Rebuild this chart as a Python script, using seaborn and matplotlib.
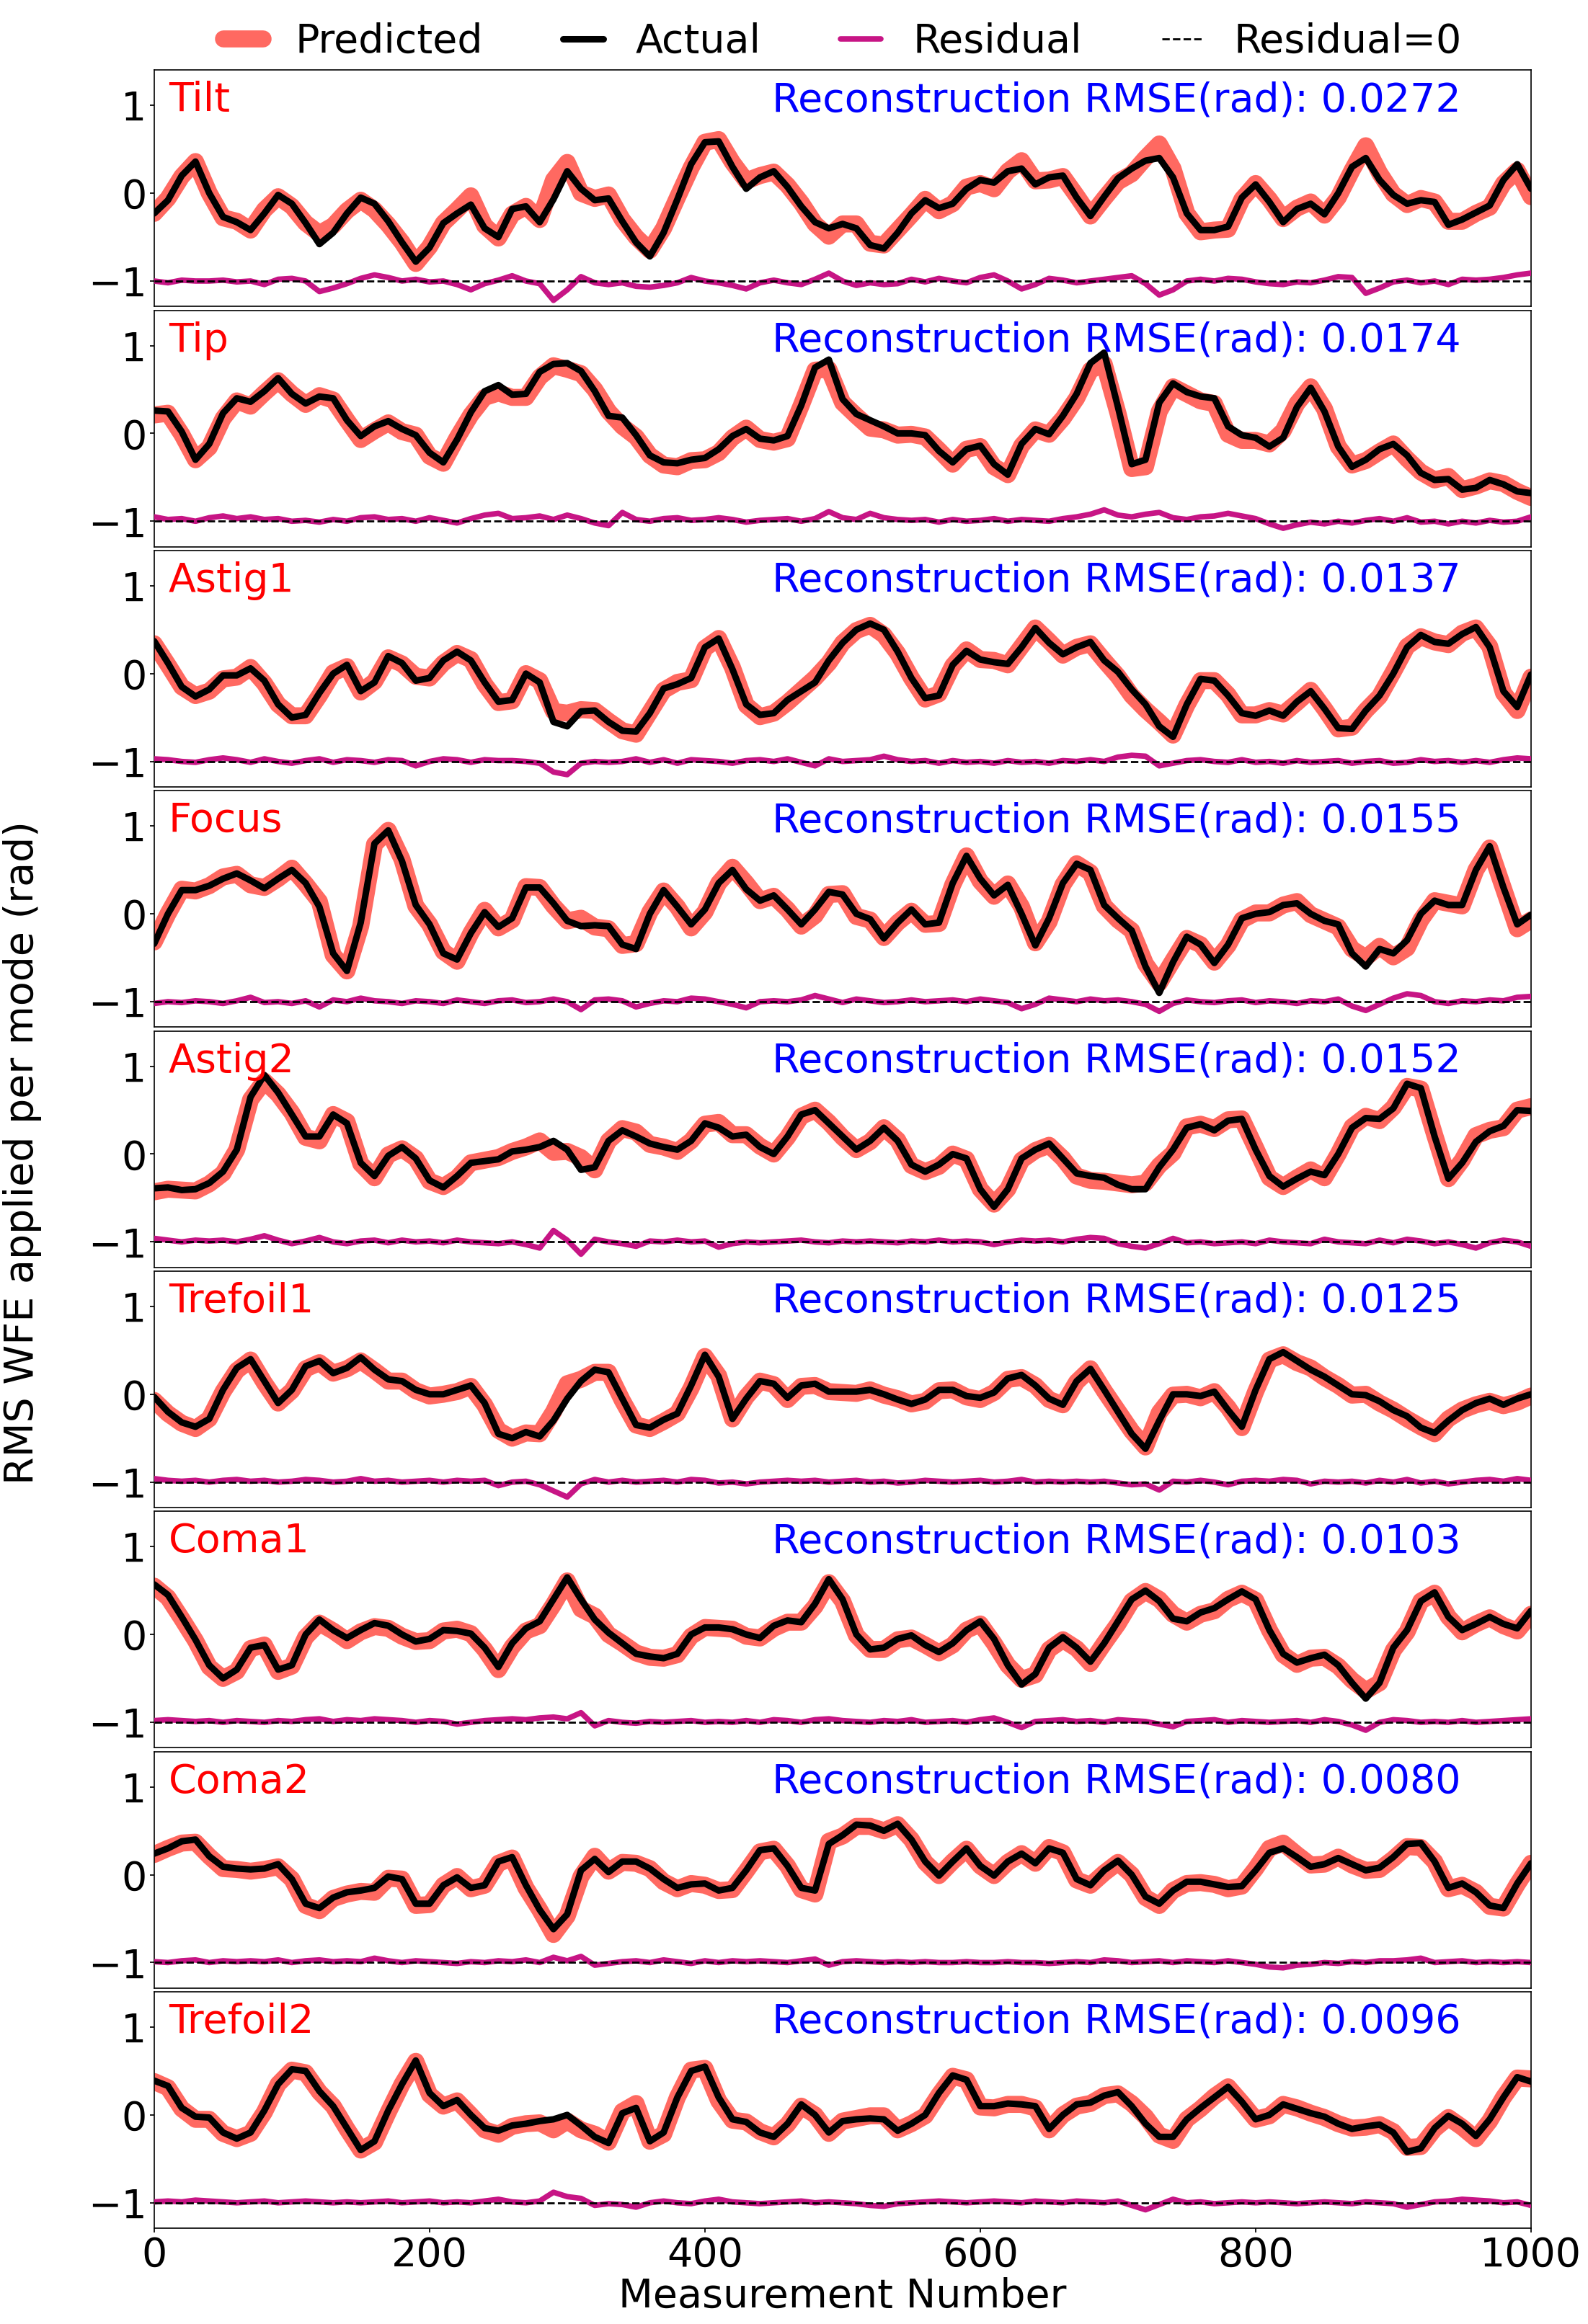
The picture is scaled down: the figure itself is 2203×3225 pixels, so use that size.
import matplotlib
matplotlib.use("Agg")
import matplotlib.pyplot as plt
import pandas as pd
import seaborn as sns

measurement = list(range(0, 1001, 10))

modes = ["Tilt", "Tip", "Astig1", "Focus", "Astig2", "Trefoil1", "Coma1", "Coma2", "Trefoil2"]
rmse = ["0.0272", "0.0174", "0.0137", "0.0155", "0.0152", "0.0125", "0.0103", "0.0080", "0.0096"]

# actual values and residuals (actual - predicted) per mode
tilt_actual = [-0.23, -0.08, 0.20, 0.36, 0.00, -0.27, -0.33, -0.42, -0.23, -0.02,
               -0.12, -0.34, -0.58, -0.45, -0.23, -0.05, -0.12, -0.32, -0.56, -0.78,
               -0.62, -0.34, -0.23, -0.13, -0.40, -0.50, -0.18, -0.15, -0.33, -0.07,
               0.25, 0.05, -0.08, -0.06, -0.32, -0.56, -0.72, -0.45, -0.07, 0.33,
               0.58, 0.59, 0.30, 0.05, 0.18, 0.25, 0.07, -0.15, -0.33, -0.40,
               -0.35, -0.40, -0.59, -0.63, -0.45, -0.23, -0.08, -0.17, -0.12, 0.05,
               0.15, 0.12, 0.25, 0.28, 0.10, 0.18, 0.20, -0.05, -0.26, -0.04,
               0.17, 0.28, 0.37, 0.40, 0.18, -0.23, -0.42, -0.42, -0.38, -0.05,
               0.10, -0.10, -0.33, -0.18, -0.12, -0.24, 0.00, 0.30, 0.40, 0.15,
               -0.02, -0.12, -0.08, -0.10, -0.36, -0.30, -0.22, -0.14, 0.15, 0.33,
               0.05]
tilt_resid = [0.0, -0.02, 0.01, 0.0, 0.0, 0.01, -0.01, 0.0, -0.04, 0.02,
              0.03, 0.0, -0.12, -0.08, -0.03, 0.03, 0.07, 0.04, 0.0, 0.02,
              -0.01, 0.0, -0.04, -0.10, -0.03, 0.01, 0.06, 0.0, -0.03, -0.22,
              -0.10, 0.05, -0.02, -0.04, -0.02, -0.06, -0.07, -0.05, -0.02, 0.04,
              0.0, -0.02, -0.05, -0.09, -0.02, 0.01, -0.02, -0.04, 0.02, 0.09,
              0.0, -0.05, -0.02, -0.04, -0.03, 0.02, -0.01, 0.03, 0.0, -0.02,
              0.04, 0.07, 0.0, -0.09, -0.04, 0.03, 0.01, -0.02, 0.0, 0.02,
              0.04, 0.06, -0.03, -0.16, -0.10, 0.0, 0.02, 0.0, 0.03, 0.02,
              -0.01, -0.03, -0.04, -0.01, -0.02, 0.01, 0.05, 0.04, -0.14, -0.08,
              -0.01, 0.01, -0.02, 0.0, -0.04, 0.02, 0.01, 0.02, 0.04, 0.07,
              0.09]

tip_actual = [0.26, 0.25, 0.02, -0.30, -0.12, 0.23, 0.40, 0.36, 0.48, 0.63,
              0.45, 0.34, 0.42, 0.40, 0.15, -0.03, 0.08, 0.14, 0.05, -0.02,
              -0.22, -0.33, -0.07, 0.24, 0.48, 0.55, 0.44, 0.45, 0.70, 0.79,
              0.80, 0.71, 0.48, 0.20, 0.18, -0.02, -0.25, -0.33, -0.34, -0.30,
              -0.28, -0.18, -0.03, 0.05, -0.06, -0.08, -0.03, 0.32, 0.75, 0.84,
              0.39, 0.22, 0.15, 0.08, 0.00, 0.00, -0.02, -0.20, -0.33, -0.18,
              -0.14, -0.35, -0.47, -0.12, 0.05, -0.01, 0.20, 0.45, 0.80, 0.92,
              0.30, -0.35, -0.30, 0.35, 0.57, 0.47, 0.42, 0.40, 0.08, -0.02,
              -0.05, -0.15, -0.05, 0.30, 0.52, 0.25, -0.15, -0.38, -0.30, -0.18,
              -0.12, -0.25, -0.45, -0.53, -0.52, -0.64, -0.62, -0.53, -0.58, -0.66,
              -0.68]
tip_resid = [0.05, 0.02, 0.03, 0.0, 0.04, 0.06, 0.03, 0.05, 0.02, 0.03,
             0.0, 0.01, -0.01, 0.02, 0.0, 0.04, 0.05, 0.02, 0.03, 0.0,
             0.04, 0.01, -0.02, 0.03, 0.07, 0.09, 0.03, 0.04, 0.06, 0.02,
             0.07, 0.03, -0.02, -0.05, 0.10, 0.02, 0.0, 0.03, 0.04, 0.01,
             0.02, 0.04, 0.02, -0.01, 0.01, 0.02, 0.03, 0.0, 0.03, 0.11,
             0.04, 0.02, 0.09, 0.04, 0.02, 0.01, 0.02, -0.01, 0.02, 0.0,
             0.01, 0.03, 0.0, 0.02, 0.01, 0.0, 0.03, 0.05, 0.08, 0.13,
             0.07, 0.05, 0.08, 0.10, 0.04, 0.02, 0.05, 0.06, 0.09, 0.06,
             0.03, -0.03, -0.08, -0.04, -0.01, -0.03, 0.0, -0.02, 0.01, 0.03,
             0.0, 0.04, -0.01, 0.0, -0.03, 0.0, -0.02, 0.01, -0.01, 0.0,
             0.05]

astig1_actual = [0.37, 0.12, -0.15, -0.26, -0.18, -0.02, -0.02, 0.06, -0.08, -0.35,
                 -0.50, -0.47, -0.22, 0.00, 0.10, -0.20, -0.10, 0.20, 0.12, -0.08,
                 -0.05, 0.15, 0.25, 0.15, -0.10, -0.32, -0.30, 0.00, -0.10, -0.55,
                 -0.60, -0.43, -0.42, -0.55, -0.65, -0.66, -0.45, -0.17, -0.12, -0.05,
                 0.30, 0.40, 0.05, -0.35, -0.47, -0.45, -0.30, -0.20, -0.10, 0.15,
                 0.35, 0.50, 0.57, 0.50, 0.25, -0.05, -0.28, -0.25, 0.10, 0.26,
                 0.16, 0.13, 0.11, 0.30, 0.52, 0.35, 0.22, 0.30, 0.36, 0.15,
                 0.02, -0.18, -0.35, -0.60, -0.72, -0.35, -0.06, -0.08, -0.25, -0.45,
                 -0.48, -0.42, -0.48, -0.32, -0.20, -0.40, -0.62, -0.63, -0.42, -0.25,
                 0.00, 0.30, 0.44, 0.36, 0.34, 0.45, 0.53, 0.30, -0.20, -0.38,
                 -0.01]
astig1_resid = [0.03, 0.02, 0.0, -0.01, 0.02, 0.04, 0.02, -0.01, 0.03, 0.0,
                -0.02, 0.01, 0.03, -0.01, 0.02, 0.01, -0.01, 0.02, 0.01, -0.05,
                0.0, 0.03, 0.02, -0.01, 0.02, 0.01, 0.01, 0.0, -0.02, -0.12,
                -0.15, -0.02, 0.0, -0.01, 0.0, 0.03, -0.01, 0.02, -0.02, 0.02,
                0.01, 0.0, -0.02, 0.01, 0.02, 0.0, 0.03, -0.01, -0.05, 0.03,
                0.0, 0.01, 0.02, 0.06, 0.02, 0.0, 0.01, -0.02, 0.01, -0.01,
                0.0, -0.02, 0.01, -0.01, 0.0, -0.02, 0.01, 0.0, 0.02, 0.0,
                0.05, 0.07, 0.06, -0.05, -0.02, 0.01, 0.02, 0.0, -0.01, 0.02,
                -0.01, 0.0, -0.02, 0.01, -0.01, 0.0, 0.01, -0.02, 0.0, 0.01,
                -0.02, -0.01, 0.02, 0.0, 0.01, -0.01, 0.01, -0.01, 0.02, 0.04,
                0.03]

focus_actual = [-0.34, 0.00, 0.27, 0.27, 0.32, 0.40, 0.46, 0.38, 0.29, 0.40,
                0.50, 0.35, 0.08, -0.45, -0.65, -0.10, 0.80, 0.95, 0.60, 0.10,
                -0.12, -0.45, -0.52, -0.22, 0.02, -0.15, -0.05, 0.30, 0.30, 0.12,
                -0.08, -0.14, -0.13, -0.14, -0.35, -0.40, 0.00, 0.27, 0.08, -0.12,
                0.05, 0.35, 0.50, 0.28, 0.15, 0.21, 0.05, -0.12, 0.05, 0.25,
                0.22, 0.00, -0.06, -0.28, -0.10, 0.05, -0.12, -0.10, 0.35, 0.66,
                0.40, 0.21, 0.33, 0.00, -0.36, -0.05, 0.35, 0.57, 0.50, 0.10,
                -0.05, -0.19, -0.60, -0.90, -0.55, -0.26, -0.35, -0.56, -0.35, -0.05,
                0.00, 0.02, 0.10, 0.12, 0.00, -0.08, -0.12, -0.45, -0.60, -0.40,
                -0.45, -0.30, 0.00, 0.15, 0.10, 0.10, 0.50, 0.77, 0.30, -0.12,
                -0.01]
focus_resid = [-0.02, 0.0, -0.01, 0.01, 0.0, -0.02, 0.01, 0.05, -0.01, 0.0,
               -0.02, 0.01, -0.06, 0.02, 0.0, 0.04, 0.01, 0.0, -0.02, 0.01,
               0.0, -0.02, 0.02, 0.0, -0.02, 0.01, 0.02, -0.01, 0.0, 0.03,
               0.0, -0.09, 0.02, 0.03, 0.01, -0.06, -0.02, 0.01, 0.0, 0.04,
               0.03, 0.0, -0.03, -0.07, 0.0, 0.01, 0.0, 0.02, 0.07, 0.03,
               -0.01, 0.03, 0.01, -0.01, 0.0, 0.02, 0.0, 0.01, 0.02, 0.0,
               0.03, 0.01, -0.01, -0.08, -0.03, 0.04, 0.02, 0.0, 0.03, 0.01,
               0.02, 0.0, -0.03, -0.11, -0.02, 0.02, 0.0, -0.01, 0.01, 0.02,
               -0.01, 0.01, 0.0, -0.02, 0.01, 0.0, 0.03, -0.05, -0.10, -0.03,
               0.04, 0.09, 0.07, 0.0, -0.02, 0.01, 0.0, 0.02, 0.01, 0.05,
               0.06]

astig2_actual = [-0.39, -0.38, -0.41, -0.40, -0.33, -0.20, 0.05, 0.65, 0.90, 0.70,
                 0.45, 0.20, 0.20, 0.45, 0.35, -0.10, -0.25, -0.02, 0.08, -0.05,
                 -0.30, -0.38, -0.25, -0.10, -0.08, -0.06, 0.03, 0.05, 0.08, 0.15,
                 0.05, -0.18, -0.15, 0.15, 0.27, 0.20, 0.12, 0.08, 0.05, 0.15,
                 0.35, 0.30, 0.20, 0.22, 0.08, 0.00, 0.20, 0.45, 0.50, 0.35,
                 0.20, 0.05, 0.15, 0.30, 0.15, -0.12, -0.20, -0.12, 0.00, -0.05,
                 -0.40, -0.60, -0.40, -0.05, 0.05, 0.12, -0.05, -0.22, -0.25, -0.27,
                 -0.35, -0.40, -0.40, -0.15, 0.05, 0.30, 0.34, 0.27, 0.38, 0.40,
                 0.05, -0.25, -0.37, -0.28, -0.20, -0.24, 0.00, 0.30, 0.41, 0.40,
                 0.52, 0.80, 0.75, 0.20, -0.28, -0.10, 0.14, 0.26, 0.32, 0.50,
                 0.49]
astig2_resid = [0.04, 0.02, 0.0, 0.02, 0.01, 0.02, 0.0, 0.03, 0.07, 0.02,
                -0.02, 0.01, 0.05, 0.0, -0.02, 0.01, 0.02, -0.01, 0.02, 0.0,
                0.01, -0.01, 0.02, 0.0, -0.01, -0.02, 0.0, -0.03, -0.07, 0.13,
                0.02, -0.14, 0.03, 0.0, -0.02, -0.05, 0.01, 0.0, 0.02, 0.0,
                0.01, -0.06, -0.02, 0.0, -0.01, 0.0, 0.01, 0.02, 0.0, -0.01,
                0.01, 0.0, 0.01, 0.0, -0.01, 0.01, 0.0, 0.02, 0.0, 0.01,
                0.0, -0.03, 0.0, 0.02, 0.01, 0.02, 0.0, 0.03, 0.05, 0.04,
                -0.02, -0.05, -0.07, -0.02, 0.04, -0.01, 0.0, -0.02, -0.01, 0.0,
                -0.02, 0.02, 0.0, -0.01, -0.02, 0.03, 0.0, -0.01, -0.02, 0.02,
                -0.01, 0.03, 0.01, -0.02, 0.0, -0.03, -0.07, -0.01, 0.02, 0.0,
                -0.05]

trefoil1_actual = [-0.03, -0.20, -0.32, -0.37, -0.28, 0.05, 0.30, 0.40, 0.15, -0.10,
                   0.05, 0.32, 0.38, 0.24, 0.30, 0.42, 0.28, 0.17, 0.15, 0.05,
                   0.00, 0.00, 0.05, 0.10, -0.10, -0.45, -0.50, -0.43, -0.48, -0.30,
                   -0.05, 0.15, 0.28, 0.25, -0.05, -0.35, -0.38, -0.29, -0.22, 0.10,
                   0.45, 0.20, -0.28, -0.05, 0.15, 0.12, -0.04, 0.10, 0.12, 0.03,
                   0.03, 0.03, 0.05, 0.00, -0.06, -0.11, -0.06, 0.05, 0.05, -0.02,
                   -0.04, 0.02, 0.18, 0.22, 0.10, -0.05, -0.12, 0.15, 0.29, 0.05,
                   -0.20, -0.45, -0.62, -0.30, 0.00, 0.00, -0.02, 0.03, -0.18, -0.37,
                   0.05, 0.40, 0.48, 0.38, 0.28, 0.20, 0.10, 0.00, -0.01, -0.08,
                   -0.18, -0.25, -0.38, -0.44, -0.30, -0.18, -0.10, -0.05, -0.12, -0.05,
                   0.00]
trefoil1_resid = [0.04, 0.02, 0.01, 0.02, 0.0, 0.02, 0.03, 0.01, 0.02, 0.0,
                  0.01, 0.03, 0.02, 0.0, 0.01, 0.04, 0.01, 0.02, 0.0, 0.01,
                  0.02, 0.0, 0.02, 0.01, 0.02, -0.04, 0.0, 0.01, -0.03, -0.10,
                  -0.17, -0.02, 0.03, 0.0, 0.02, 0.0, 0.01, 0.02, 0.0, 0.03,
                  0.02, -0.01, 0.0, -0.02, 0.0, 0.01, 0.02, 0.01, 0.02, 0.0,
                  0.01, 0.02, 0.0, 0.01, -0.01, 0.0, 0.02, 0.01, 0.0, 0.01,
                  0.02, 0.0, 0.01, 0.03, 0.0, 0.01, 0.0, 0.01, 0.0, 0.01,
                  -0.01, -0.03, -0.02, -0.09, 0.01, 0.0, 0.02, 0.0, -0.03, 0.01,
                  0.02, 0.01, 0.03, 0.02, -0.02, 0.01, 0.0, 0.01, -0.01, 0.02,
                  0.0, 0.03, -0.01, 0.01, -0.02, 0.0, 0.02, 0.03, 0.01, 0.04,
                  0.02]

coma1_actual = [0.57, 0.45, 0.20, -0.06, -0.35, -0.50, -0.40, -0.15, -0.12, -0.40,
                -0.35, 0.00, 0.17, 0.05, -0.04, 0.05, 0.13, 0.10, 0.00, -0.08,
                -0.05, 0.05, 0.04, 0.01, -0.15, -0.37, -0.10, 0.07, 0.15, 0.40,
                0.65, 0.40, 0.17, 0.02, -0.10, -0.22, -0.25, -0.27, -0.22, 0.00,
                0.08, 0.08, 0.06, 0.00, -0.04, 0.10, 0.16, 0.14, 0.35, 0.63,
                0.40, 0.00, -0.17, -0.15, -0.05, -0.01, -0.12, -0.20, -0.10, 0.05,
                0.15, -0.05, -0.35, -0.57, -0.45, -0.15, -0.03, -0.15, -0.31, -0.10,
                0.15, 0.40, 0.50, 0.38, 0.18, 0.15, 0.25, 0.30, 0.40, 0.49,
                0.40, 0.05, -0.22, -0.32, -0.27, -0.23, -0.35, -0.55, -0.73, -0.55,
                -0.15, 0.05, 0.38, 0.48, 0.20, 0.05, 0.12, 0.20, 0.12, 0.07,
                0.27]
coma1_resid = [0.02, 0.03, 0.02, 0.01, 0.02, 0.0, 0.02, 0.01, 0.0, 0.02,
               0.01, 0.03, 0.04, 0.01, 0.03, 0.02, 0.04, 0.03, 0.02, 0.0,
               0.02, 0.01, -0.02, 0.0, 0.02, 0.03, 0.04, 0.03, 0.05, 0.06,
               0.04, 0.11, -0.04, 0.02, 0.0, -0.01, 0.01, 0.0, 0.01, 0.02,
               0.0, 0.01, 0.0, 0.02, 0.0, 0.03, 0.02, 0.0, 0.03, 0.04,
               0.02, 0.01, 0.0, 0.02, 0.01, 0.03, 0.0, 0.01, 0.02, 0.0,
               0.03, 0.05, 0.0, -0.06, 0.01, 0.02, 0.03, 0.01, 0.02, 0.0,
               0.03, 0.02, 0.01, -0.02, -0.05, 0.01, 0.02, 0.03, 0.0, 0.02,
               0.01, 0.0, 0.01, 0.02, 0.0, 0.03, 0.01, -0.03, -0.09, 0.0,
               0.03, 0.02, 0.0, 0.01, 0.0, 0.02, 0.0, 0.01, 0.02, 0.03,
               0.04]

coma2_actual = [0.24, 0.30, 0.38, 0.40, 0.21, 0.09, 0.07, 0.06, 0.07, 0.12,
                -0.05, -0.33, -0.38, -0.26, -0.20, -0.18, -0.15, -0.02, -0.05, -0.33,
                -0.33, -0.12, -0.03, -0.15, -0.12, 0.15, 0.20, -0.12, -0.40, -0.62,
                -0.45, 0.05, 0.18, 0.03, 0.15, 0.15, 0.07, -0.05, -0.15, -0.11,
                -0.10, -0.18, -0.15, 0.05, 0.28, 0.30, 0.10, -0.15, -0.18, 0.35,
                0.45, 0.57, 0.56, 0.50, 0.58, 0.40, 0.15, -0.01, 0.15, 0.30,
                0.10, -0.01, 0.15, 0.24, 0.13, 0.30, 0.25, -0.05, -0.12, 0.05,
                0.16, 0.00, -0.25, -0.33, -0.18, -0.08, -0.08, -0.11, -0.14, -0.13,
                0.05, 0.25, 0.30, 0.20, 0.09, 0.12, 0.19, 0.12, 0.05, 0.08,
                0.20, 0.35, 0.36, 0.15, -0.15, -0.10, -0.20, -0.35, -0.38, -0.10,
                0.13]
coma2_resid = [0.01, 0.0, 0.02, 0.03, 0.0, 0.02, 0.01, 0.02, 0.01, 0.03,
               0.0, 0.02, 0.03, 0.01, 0.02, 0.01, 0.05, 0.02, 0.0, 0.02,
               0.01, 0.0, -0.01, 0.01, 0.0, 0.02, 0.01, 0.03, 0.0, 0.06,
               0.02, 0.07, -0.03, -0.01, 0.01, 0.02, 0.0, 0.03, 0.01, -0.01,
               0.02, 0.0, 0.02, 0.01, 0.02, 0.01, 0.0, 0.02, 0.04, -0.03,
               0.01, 0.02, 0.01, 0.0, 0.01, 0.0, 0.01, 0.0, 0.0, 0.01,
               0.0, 0.0, 0.01, 0.0, 0.0, -0.01, 0.0, 0.01, 0.0, 0.03,
               0.02, 0.0, 0.01, 0.02, 0.0, 0.02, 0.01, 0.0, 0.02, 0.0,
               -0.02, -0.05, -0.06, -0.03, -0.02, 0.0, -0.01, 0.01, 0.0, 0.02,
               0.02, 0.03, 0.05, 0.0, 0.01, 0.02, 0.0, 0.01, 0.0, 0.01,
               0.0]

trefoil2_actual = [0.39, 0.33, 0.08, -0.02, -0.03, -0.20, -0.27, -0.20, 0.05, 0.35,
                   0.52, 0.50, 0.27, 0.10, -0.15, -0.40, -0.30, 0.05, 0.35, 0.62,
                   0.25, 0.10, 0.17, 0.00, -0.15, -0.18, -0.12, -0.10, -0.07, -0.05,
                   0.00, -0.12, -0.25, -0.32, 0.02, 0.08, -0.30, -0.20, 0.20, 0.50,
                   0.55, 0.20, -0.05, -0.08, -0.20, -0.25, -0.10, 0.12, 0.00, -0.20,
                   -0.07, -0.05, -0.04, -0.05, -0.18, -0.10, 0.00, 0.25, 0.45, 0.40,
                   0.10, 0.10, 0.13, 0.12, 0.10, -0.16, 0.00, 0.12, 0.14, 0.22,
                   0.26, 0.10, -0.10, -0.25, -0.25, -0.05, 0.08, 0.20, 0.32, 0.15,
                   -0.05, 0.00, 0.12, 0.07, 0.02, -0.02, -0.10, -0.16, -0.13, -0.11,
                   -0.20, -0.42, -0.38, -0.15, -0.01, -0.10, -0.24, -0.05, 0.20, 0.43,
                   0.38]
trefoil2_resid = [0.01, 0.02, 0.01, 0.03, 0.02, 0.01, 0.0, 0.01, 0.02, 0.0,
                  0.01, 0.02, 0.01, 0.0, 0.01, 0.0, 0.01, 0.02, 0.0, 0.01,
                  0.02, 0.0, 0.01, 0.0, 0.02, 0.04, 0.01, 0.0, 0.02, 0.12,
                  0.07, 0.05, -0.03, -0.01, -0.02, -0.05, 0.0, 0.02, 0.0, -0.01,
                  0.02, 0.04, 0.01, 0.0, -0.01, 0.0, 0.01, 0.02, 0.0, 0.01,
                  0.0, -0.01, -0.03, -0.04, -0.01, 0.0, 0.01, 0.02, 0.01, 0.0,
                  0.01, 0.02, 0.01, 0.0, 0.02, 0.01, 0.0, 0.02, 0.01, 0.0,
                  0.02, -0.03, -0.08, -0.02, 0.04, 0.0, 0.01, -0.01, 0.0, 0.01,
                  0.0, 0.01, 0.0, -0.01, 0.0, 0.01, 0.0, -0.01, 0.01, 0.0,
                  -0.01, -0.05, -0.02, 0.01, 0.02, 0.04, 0.03, 0.02, 0.0, 0.01,
                  -0.03]

actual_lists = [tilt_actual, tip_actual, astig1_actual, focus_actual, astig2_actual,
                trefoil1_actual, coma1_actual, coma2_actual, trefoil2_actual]
resid_lists = [tilt_resid, tip_resid, astig1_resid, focus_resid, astig2_resid,
               trefoil1_resid, coma1_resid, coma2_resid, trefoil2_resid]

for name, a, r in zip(modes, actual_lists, resid_lists):
    if len(a) != len(measurement) or len(r) != len(measurement):
        print(f"length problem in {name}: {len(a)} {len(r)}")

# long-form table for seaborn
frames = []
for name, a, r in zip(modes, actual_lists, resid_lists):
    frames.append(pd.DataFrame({"Measurement": measurement, "Actual": a,
                                "Residual": r, "mode": name}))
df = pd.concat(frames, ignore_index=True)
df["Predicted"] = df["Actual"] - df["Residual"]
df["ResidualShift"] = df["Residual"] - 1.0

PRED = "#ff6961"
RES = "#c71585"
FS = 40

sns.set_theme(style="ticks")
plt.rcParams.update({
    "font.family": ["DejaVu Sans"],
    "font.size": FS,
    "axes.edgecolor": "black",
    "axes.linewidth": 1.2,
    "text.color": "black",
    "axes.labelcolor": "black",
    "xtick.color": "black",
    "ytick.color": "black",
    "xtick.labelsize": FS,
    "ytick.labelsize": FS,
    "xtick.major.size": 4,
    "ytick.major.size": 4,
    "lines.solid_joinstyle": "round",
})

fig, axes = plt.subplots(9, 1, figsize=(22.03, 32.25), dpi=100, sharex=True)
fig.subplots_adjust(left=0.0971, right=0.9641, top=0.9698, bottom=0.0412, hspace=0.0165)

for i, name in enumerate(modes):
    ax = axes[i]
    d = df[df["mode"] == name]
    sns.lineplot(data=d, x="Measurement", y="Predicted", ax=ax, color=PRED, linewidth=17,
                 label="Predicted", estimator=None, legend=False, zorder=2)
    sns.lineplot(data=d, x="Measurement", y="Actual", ax=ax, color="black", linewidth=6.5,
                 label="Actual", estimator=None, legend=False, zorder=3)
    sns.lineplot(data=d, x="Measurement", y="ResidualShift", ax=ax, color=RES, linewidth=5.5,
                 label="Residual", estimator=None, legend=False, zorder=3)
    ax.axhline(-1, color="black", ls="--", lw=2, label="Residual=0", zorder=4)

    ax.set_xlim(0, 1000)
    ax.set_ylim(-1.29, 1.40)
    ax.set_yticks([-1, 0, 1])
    ax.set_xlabel("")
    ax.set_ylabel("")
    ax.text(0.0105, 0.955, name, transform=ax.transAxes, color="red",
            fontsize=FS, ha="left", va="top")
    ax.text(0.949, 0.955, f"Reconstruction RMSE(rad): {rmse[i]}", transform=ax.transAxes,
            color="blue", fontsize=FS, ha="right", va="top")
    if i < len(modes) - 1:
        ax.tick_params(axis="x", which="both", bottom=False, labelbottom=False)

axes[-1].set_xticks([0, 200, 400, 600, 800, 1000])
axes[-1].set_xlabel("Measurement Number", fontsize=FS, labelpad=2)

handles, labels = axes[0].get_legend_handles_labels()
axes[0].legend(handles, labels, loc="lower center", bbox_to_anchor=(0.5, 0.97), ncol=4,
               frameon=False, borderaxespad=0.0, handlelength=1.0, fontsize=FS)

fig.text(0.014, 0.504, "RMS WFE applied per mode (rad)", rotation=90,
         ha="center", va="center", fontsize=FS)

fig.savefig("out.png", dpi=100)
